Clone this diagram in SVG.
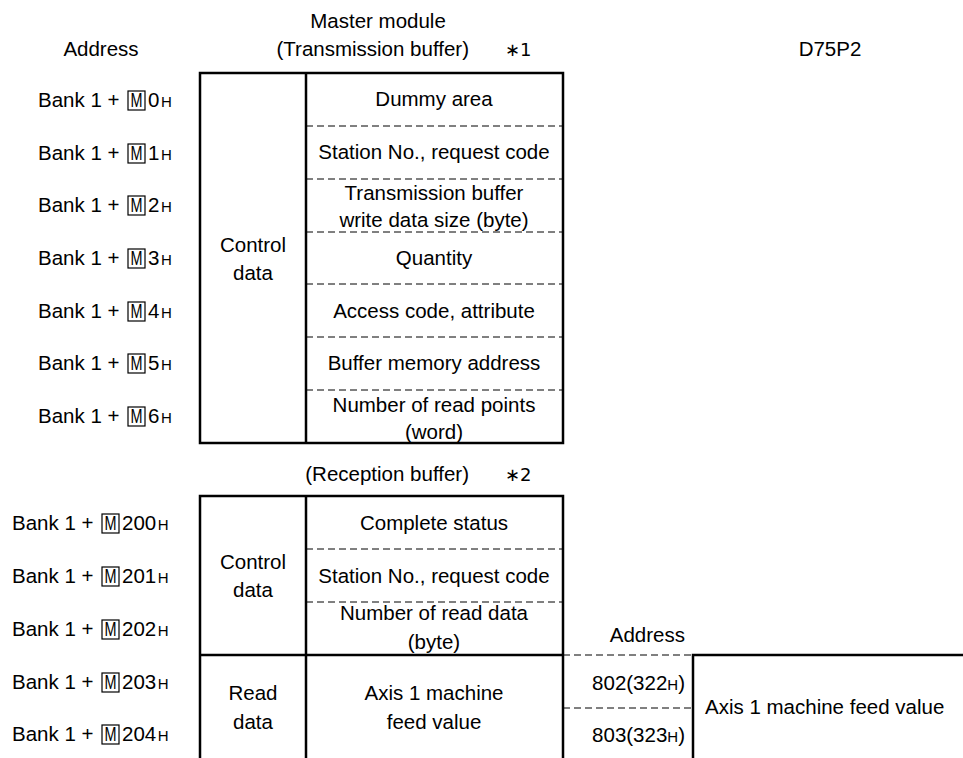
<svg xmlns="http://www.w3.org/2000/svg" width="963" height="758" viewBox="0 0 963 758">
<style>
text{font-family:"Liberation Sans",Arial,sans-serif;font-size:20.5px;fill:#000}
.c{text-anchor:middle}
.e{text-anchor:end}
.h{font-size:15px}
.ast{font-family:"DejaVu Sans","Liberation Sans",sans-serif;font-size:18px}
.s{stroke:#000;stroke-width:2.5;fill:none}
.d{stroke:#000;stroke-width:1;stroke-dasharray:7 4;fill:none}
.mb{stroke:#000;stroke-width:1.2;fill:none}
</style>
<rect width="963" height="758" fill="#fff"/>
<g id="headings">
<text x="378" y="28" class="c">Master module</text>
<text x="101" y="56" class="c">Address</text>
<text x="469" y="56" class="e">(Transmission buffer)</text>
<text x="505" y="56" class="ast">∗1</text>
<text x="830" y="56" class="c">D75P2</text>
<text x="469" y="481" class="e">(Reception buffer)</text>
<text x="505" y="481" class="ast">∗2</text>
<text x="685" y="642" class="e">Address</text>
</g>
<g id="address-labels">
<g id="a0"><text x="38" y="107">Bank 1 +</text><rect x="128" y="91" width="17" height="19" class="mb"/><text x="136.5" y="107" class="c" textLength="12" lengthAdjust="spacingAndGlyphs">M</text><text x="148" y="107">0<tspan class="h" dx="1.5">H</tspan></text></g>
<g id="a1"><text x="38" y="160">Bank 1 +</text><rect x="128" y="144" width="17" height="19" class="mb"/><text x="136.5" y="160" class="c" textLength="12" lengthAdjust="spacingAndGlyphs">M</text><text x="148" y="160">1<tspan class="h" dx="1.5">H</tspan></text></g>
<g id="a2"><text x="38" y="212">Bank 1 +</text><rect x="128" y="196" width="17" height="19" class="mb"/><text x="136.5" y="212" class="c" textLength="12" lengthAdjust="spacingAndGlyphs">M</text><text x="148" y="212">2<tspan class="h" dx="1.5">H</tspan></text></g>
<g id="a3"><text x="38" y="265">Bank 1 +</text><rect x="128" y="249" width="17" height="19" class="mb"/><text x="136.5" y="265" class="c" textLength="12" lengthAdjust="spacingAndGlyphs">M</text><text x="148" y="265">3<tspan class="h" dx="1.5">H</tspan></text></g>
<g id="a4"><text x="38" y="318">Bank 1 +</text><rect x="128" y="302" width="17" height="19" class="mb"/><text x="136.5" y="318" class="c" textLength="12" lengthAdjust="spacingAndGlyphs">M</text><text x="148" y="318">4<tspan class="h" dx="1.5">H</tspan></text></g>
<g id="a5"><text x="38" y="370">Bank 1 +</text><rect x="128" y="354" width="17" height="19" class="mb"/><text x="136.5" y="370" class="c" textLength="12" lengthAdjust="spacingAndGlyphs">M</text><text x="148" y="370">5<tspan class="h" dx="1.5">H</tspan></text></g>
<g id="a6"><text x="38" y="423">Bank 1 +</text><rect x="128" y="407" width="17" height="19" class="mb"/><text x="136.5" y="423" class="c" textLength="12" lengthAdjust="spacingAndGlyphs">M</text><text x="148" y="423">6<tspan class="h" dx="1.5">H</tspan></text></g>
<g id="a200"><text x="12" y="530">Bank 1 +</text><rect x="102" y="514" width="17" height="19" class="mb"/><text x="110.5" y="530" class="c" textLength="12" lengthAdjust="spacingAndGlyphs">M</text><text x="122" y="530">200<tspan class="h" dx="1.5">H</tspan></text></g>
<g id="a201"><text x="12" y="583">Bank 1 +</text><rect x="102" y="567" width="17" height="19" class="mb"/><text x="110.5" y="583" class="c" textLength="12" lengthAdjust="spacingAndGlyphs">M</text><text x="122" y="583">201<tspan class="h" dx="1.5">H</tspan></text></g>
<g id="a202"><text x="12" y="636">Bank 1 +</text><rect x="102" y="620" width="17" height="19" class="mb"/><text x="110.5" y="636" class="c" textLength="12" lengthAdjust="spacingAndGlyphs">M</text><text x="122" y="636">202<tspan class="h" dx="1.5">H</tspan></text></g>
<g id="a203"><text x="12" y="689">Bank 1 +</text><rect x="102" y="673" width="17" height="19" class="mb"/><text x="110.5" y="689" class="c" textLength="12" lengthAdjust="spacingAndGlyphs">M</text><text x="122" y="689">203<tspan class="h" dx="1.5">H</tspan></text></g>
<g id="a204"><text x="12" y="741">Bank 1 +</text><rect x="102" y="725" width="17" height="19" class="mb"/><text x="110.5" y="741" class="c" textLength="12" lengthAdjust="spacingAndGlyphs">M</text><text x="122" y="741">204<tspan class="h" dx="1.5">H</tspan></text></g>
</g>
<g id="transmission-buffer">
<g id="tx-control"><text x="253" y="252" class="c">Control</text><text x="253" y="280" class="c">data</text></g>
<g id="tx-0"><text x="434" y="106" class="c">Dummy area</text></g>
<g id="tx-1"><text x="434" y="159" class="c">Station No., request code</text></g>
<g id="tx-2"><text x="434" y="200" class="c">Transmission buffer</text><text x="434" y="227" class="c">write data size (byte)</text></g>
<g id="tx-3"><text x="434" y="265" class="c">Quantity</text></g>
<g id="tx-4"><text x="434" y="318" class="c">Access code, attribute</text></g>
<g id="tx-5"><text x="434" y="370" class="c">Buffer memory address</text></g>
<g id="tx-6"><text x="434" y="412" class="c">Number of read points</text><text x="434" y="439" class="c">(word)</text></g>
</g>
<g id="reception-buffer">
<g id="rx-control"><text x="253" y="569" class="c">Control</text><text x="253" y="597" class="c">data</text></g>
<g id="rx-read"><text x="253" y="700" class="c">Read</text><text x="253" y="729" class="c">data</text></g>
<g id="rx-0"><text x="434" y="530" class="c">Complete status</text></g>
<g id="rx-1"><text x="434" y="583" class="c">Station No., request code</text></g>
<g id="rx-2"><text x="434" y="620" class="c">Number of read data</text><text x="434" y="649" class="c">(byte)</text></g>
<g id="rx-3"><text x="434" y="700" class="c">Axis 1 machine</text><text x="434" y="729" class="c">feed value</text></g>
</g>
<g id="d75p2">
<g id="addr-802"><text x="685" y="690" class="e">802(322<tspan class="h">H</tspan>)</text></g>
<g id="addr-803"><text x="685" y="742" class="e">803(323<tspan class="h">H</tspan>)</text></g>
<g id="axis1"><text x="705" y="714">Axis 1 machine feed value</text></g>
</g>
<g id="connectors">
<rect x="200" y="73" width="363" height="370" class="s"/>
<line x1="306" y1="73" x2="306" y2="443" class="s"/>
<path d="M306 126H563M306 179H563M306 232H563M306 284H563M306 337H563M306 390H563" class="d"/>
<path d="M200 760V496H563V760M306 496V760M200 655H563M693 760V655H963" class="s"/>
<path d="M306 549H563M306 602H563M563 655H693M563 708H693" class="d"/>
</g>
</svg>
